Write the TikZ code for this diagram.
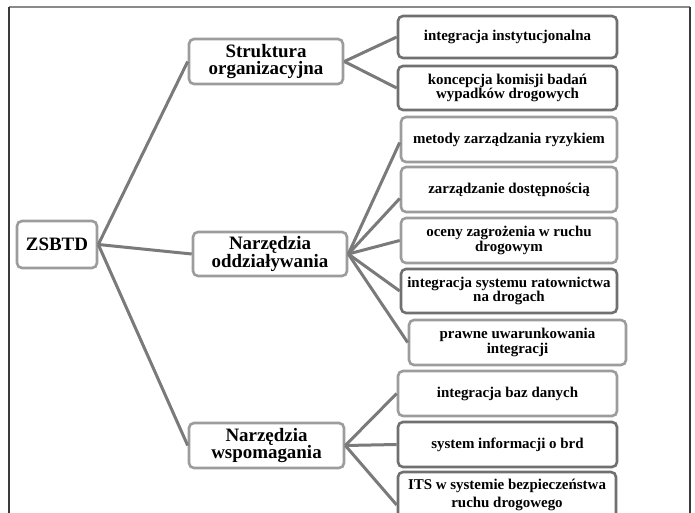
\documentclass[tikz,border=0pt]{standalone}
\usepackage{fontspec}
\setmainfont{Liberation Serif}
\definecolor{boxlight}{HTML}{9C9C9C}
\definecolor{boxdark}{HTML}{707070}
\definecolor{linkgray}{HTML}{7A7A7A}
\definecolor{framegray}{HTML}{8A8A8A}
\definecolor{framedark}{HTML}{3A3A3A}
\begin{document}
\begin{tikzpicture}[x=1bp,y=-1bp,
  box/.style={draw=boxlight, line width=2.6bp, rounded corners=5bp, fill=white,
    inner sep=0pt, align=center, text=black,
    font=\bfseries\fontsize{15}{14.5}\selectfont},
  topbox/.style={box, font=\bfseries\fontsize{19}{18}\selectfont},
  darkbox/.style={draw=boxdark},
  link/.style={draw=linkgray, line width=3bp}]
\useasboundingbox (0,0) rectangle (695,513);
\fill[white] (0,0) rectangle (695,513);
% frame
\draw[framegray, line width=1.6bp] (9,7) -- (690,7);
\draw[framedark, line width=1.4bp] (9,7) -- (9,513);
\draw[framedark, line width=1.4bp] (690,7) -- (690,513);
% level 0 and 1
\node[topbox, minimum width=80bp, minimum height=47bp] (Z) at (57,244.5) {ZSBTD};
\node[topbox, minimum width=154bp, minimum height=45bp] (S) at (266,61.5) {Struktura\\organizacyjna};
\node[topbox, minimum width=154bp, minimum height=44bp] (O) at (270,254) {Narzędzia\\oddziaływania};
\node[topbox, minimum width=155bp, minimum height=45bp] (W) at (266.5,445.5) {Narzędzia\\wspomagania};
% level 2
\node[box, darkbox, minimum width=219bp, minimum height=42bp] (A1) at (507.5,37) {integracja instytucjonalna};
\node[box, darkbox, minimum width=219bp, minimum height=44bp] (A2) at (507.5,88) {koncepcja komisji badań\\wypadków drogowych};
\node[box, minimum width=216bp, minimum height=45bp] (B1) at (509,139.5) {metody zarządzania ryzykiem};
\node[box, minimum width=216bp, minimum height=45bp] (B2) at (509,189.5) {zarządzanie dostępnością};
\node[box, minimum width=216bp, minimum height=45bp] (B3) at (509,240.5) {oceny zagrożenia w ruchu\\drogowym};
\node[box, darkbox, minimum width=216bp, minimum height=44bp] (B4) at (509,291) {integracja systemu ratownictwa\\na drogach};
\node[box, minimum width=217bp, minimum height=45bp] (B5) at (517.5,342.5) {prawne uwarunkowania\\integracji};
\node[box, minimum width=219bp, minimum height=45bp] (C1) at (507.5,393.5) {integracja baz danych};
\node[box, darkbox, minimum width=219bp, minimum height=45bp] (C2) at (507.5,444.5) {system informacji o brd};
\node[box, darkbox, minimum width=218bp, minimum height=66bp] (C3) at (507,505)
  {\parbox[c][58bp][t]{214bp}{\centering\vspace{3bp}\fontsize{15}{18.5}\selectfont ITS w systemie bezpieczeństwa\\ruchu drogowego}};
% connectors
\draw[link] (Z.east) -- (S.west);
\draw[link] (Z.east) -- (O.west);
\draw[link] (Z.east) -- (W.west);
\draw[link] (S.east) -- (A1.west);
\draw[link] (S.east) -- (A2.west);
\draw[link] (O.east) -- ([yshift=-3bp]B1.west);
\draw[link] (O.east) -- ([yshift=-9bp]B2.west);
\draw[link] (O.east) -- (B3.west);
\draw[link] (O.east) -- (B4.west);
\draw[link] (O.east) -- (B5.west);
\draw[link] (W.east) -- (C1.west);
\draw[link] (W.east) -- (C2.west);
\draw[link] (W.east) -- (C3.west);
\end{tikzpicture}
\end{document}
